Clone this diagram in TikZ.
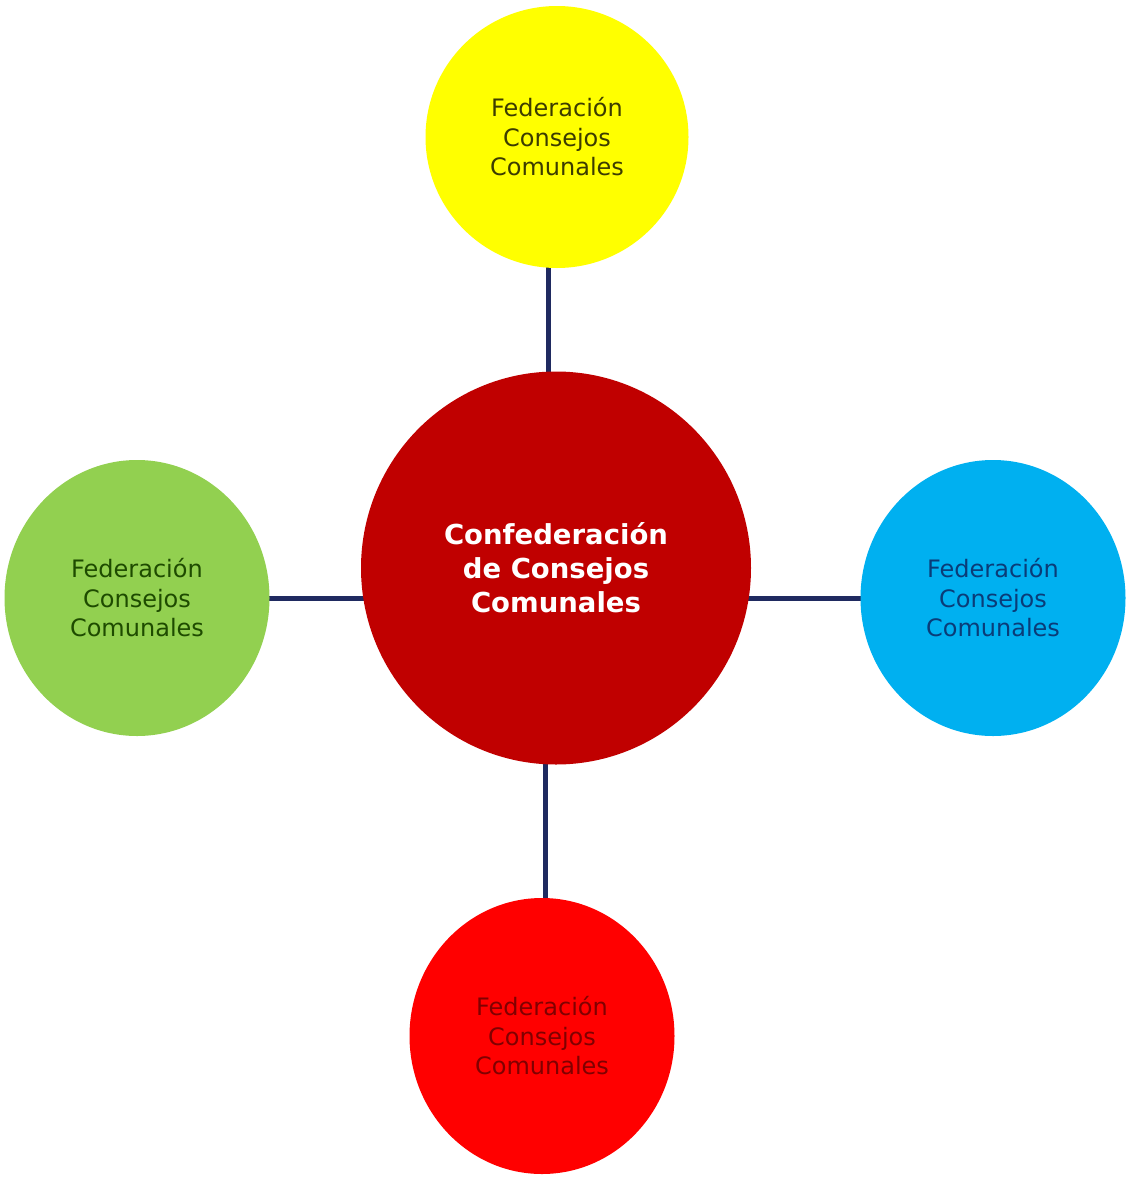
\documentclass[tikz,border=0pt]{standalone}
\usepackage{fontspec}
\setmainfont{DejaVu Sans}
\usetikzlibrary{shapes.geometric,backgrounds}

\definecolor{confred}{HTML}{C00000}
\definecolor{fedyellow}{HTML}{FFFF00}
\definecolor{fedgreen}{HTML}{92D050}
\definecolor{fedblue}{HTML}{00B0F0}
\definecolor{fedred}{HTML}{FF0000}
\definecolor{linknavy}{HTML}{1F2A60}

\tikzset{
  fedcircle/.style={ellipse, draw=none, inner sep=0pt, align=center,
    minimum width=265pt, minimum height=276pt,
    font=\fontsize{24}{29.5}\selectfont},
  confcircle/.style={ellipse, draw=none, inner sep=0pt, align=center,
    fill=confred, text=white, minimum width=390pt, minimum height=393pt,
    font=\fontsize{27.5}{34}\selectfont\bfseries},
  link/.style={draw=linknavy, line width=5pt}
}

\begin{document}
\begin{tikzpicture}[x=1pt, y=-1pt]

\useasboundingbox (0,0) rectangle (1126,1178);

%% the confederation in the middle
\node[confcircle] (conf) at (556,568) {Confederación\\de Consejos\\Comunales};

%% the four federations
\node[fedcircle, fill=fedyellow, text={rgb,255:red,60;green,60;blue,0}, minimum width=263pt, minimum height=262pt]
  (fedtop) at (557,137) {Federación\\Consejos\\Comunales};
\node[fedcircle, fill=fedgreen, text={rgb,255:red,30;green,75;blue,0}]
  (fedleft) at (137,598) {Federación\\Consejos\\Comunales};
\node[fedcircle, fill=fedblue, text={rgb,255:red,10;green,60;blue,120}]
  (fedright) at (993,598) {Federación\\Consejos\\Comunales};
\node[fedcircle, fill=fedred, text={rgb,255:red,128;green,0;blue,0}]
  (fedbottom) at (542,1036) {Federación\\Consejos\\Comunales};

%% links behind the circles
\begin{scope}[on background layer]
  \draw[link] ([xshift=-9pt]fedtop.center) -- ([xshift=-9pt]fedtop.center |- conf.center);
  \draw[link] ([xshift=3pt]fedbottom.center) -- ([xshift=3pt]fedbottom.center |- conf.center);
  \draw[link] (fedleft.center) -- (fedleft.center -| conf.center);
  \draw[link] (fedright.center) -- (fedright.center -| conf.center);
\end{scope}

\end{tikzpicture}
\end{document}
